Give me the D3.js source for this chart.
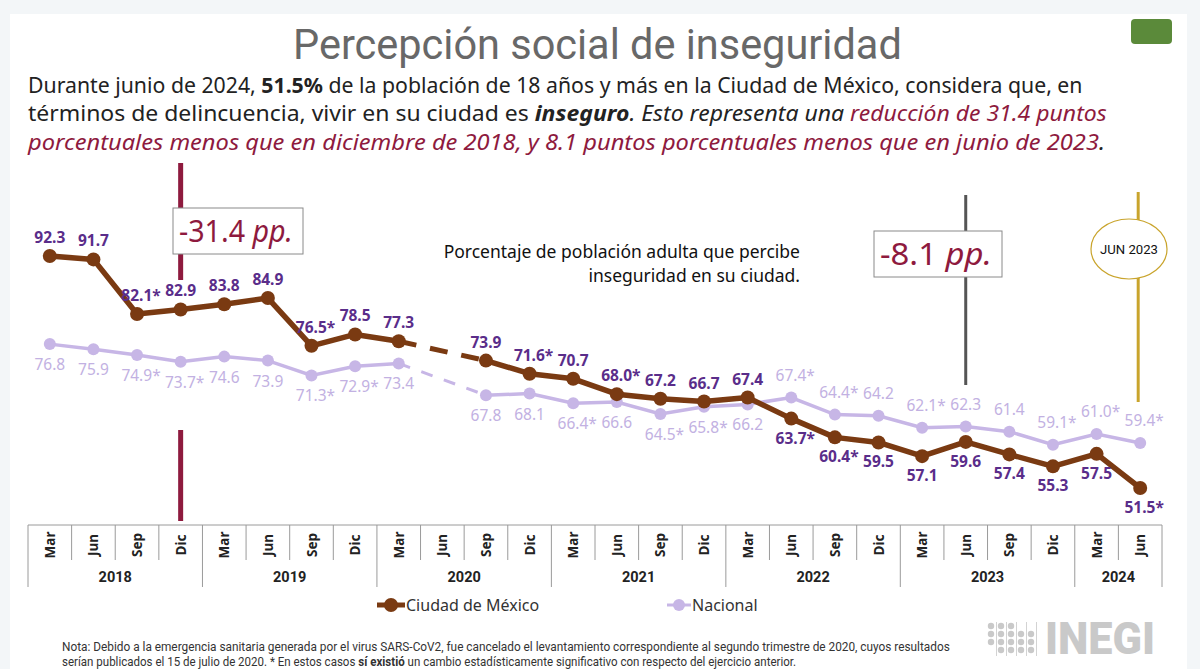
<!DOCTYPE html>
<html>
<head>
<meta charset="utf-8">
<script src="https://cdn.jsdelivr.net/npm/d3@7"></script>
<style>
  html, body { margin: 0; padding: 0; background: #f3f6f8; }
  svg { display: block; }
</style>
</head>
<body>
<svg id="svgBlock" width="1200" height="669"></svg>
<script>
// Quarters shown on the x axis
const years = ["2018", "2019", "2020", "2021", "2022", "2023", "2024"];
const quarters = [
  "Mar 2018", "Jun 2018", "Sep 2018", "Dic 2018",
  "Mar 2019", "Jun 2019", "Sep 2019", "Dic 2019",
  "Mar 2020", "Jun 2020", "Sep 2020", "Dic 2020",
  "Mar 2021", "Jun 2021", "Sep 2021", "Dic 2021",
  "Mar 2022", "Jun 2022", "Sep 2022", "Dic 2022",
  "Mar 2023", "Jun 2023", "Sep 2023", "Dic 2023",
  "Mar 2024", "Jun 2024"
];

// Percent of adults who perceive insecurity (null = survey cancelled)
const cdmx = [92.3, 91.7, 82.1, 82.9, 83.8, 84.9, 76.5, 78.5, 77.3, null, 73.9, 71.6, 70.7,
  68.0, 67.2, 66.7, 67.4, 63.7, 60.4, 59.5, 57.1, 59.6, 57.4, 55.3, 57.5, 51.5];
const nacional = [76.8, 75.9, 74.9, 73.7, 74.6, 73.9, 71.3, 72.9, 73.4, null, 67.8, 68.1, 66.4,
  66.6, 64.5, 65.8, 66.2, 67.4, 64.4, 64.2, 62.1, 62.3, 61.4, 59.1, 61.0, 59.4];

// statistically significant change marks (*)
const cdmxSig = [false, false, true, false, false, false, true, false, false, false, false, true, false,
  true, false, false, false, true, true, false, false, false, false, false, false, true];
const nacionalSig = [false, false, true, true, false, false, true, true, false, false, false, false, true,
  false, true, true, false, true, true, false, true, false, false, true, true, true];

const svg = d3.select("#svgBlock");

// squeeze a text (with its tspans) horizontally into a target width
function fitText(parts, x0, y0, width, font, size, fill) {
  const g = svg.append("g");
  const t = g.append("text").style("font-family", font).style("font-size", size + "px").attr("fill", fill);
  parts.forEach(p => {
    const s = t.append("tspan").text(p.t);
    if (p.b) s.attr("font-weight", "bold");
    if (p.i) s.attr("font-style", "italic");
    if (p.c) s.attr("fill", p.c);
  });
  const len = t.node().getComputedTextLength();
  g.attr("transform", `translate(${x0},${y0}) scale(${width / len},1)`);
  return g;
}

// white card + decoration
svg.append("rect").attr("x", 10).attr("y", 14).attr("width", 1177).attr("height", 660).attr("fill", "#fff");
svg.append("rect").attr("x", 1131).attr("y", 19).attr("width", 41).attr("height", 25).attr("rx", 4).attr("fill", "#5b8a3a");

const maroon = "#8e1a3e";

// title and lead text
fitText([{ t: "Percepción social de inseguridad" }], 293, 59, 609, "Roboto", 42, "#686868");
fitText([
  { t: "Durante junio de 2024, " }, { t: "51.5%", b: true },
  { t: " de la población de 18 años y más en la Ciudad de México, considera que, en" }
], 28, 93, 1055, "Noto Sans", 22, "#222");
fitText([
  { t: "términos de delincuencia, vivir en su ciudad es " }, { t: "inseguro", b: true, i: true },
  { t: ". Esto representa una ", i: true }, { t: "reducción de 31.4 puntos", i: true, c: maroon }
], 28, 121, 1079, "Noto Sans", 22, "#222");
fitText([
  { t: "porcentuales menos que en diciembre de 2018, y 8.1 puntos porcentuales menos que en junio de 2023", i: true, c: maroon },
  { t: ".", i: true }
], 28, 150, 1078, "Noto Sans", 22, "#222");

// scales
const x = d3.scaleBand().domain(d3.range(quarters.length)).range([28, 1162]).padding(0);
const cx = i => x(i) + x.bandwidth() / 2;
const y = d3.scaleLinear().domain([50, 100]).range([496.5, 212.2]);

// reference lines
const g0 = svg.append("g");
g0.append("line").attr("x1", cx(3)).attr("x2", cx(3)).attr("y1", 163).attr("y2", 280)
  .attr("stroke", maroon).attr("stroke-width", 5);
g0.append("line").attr("x1", cx(3)).attr("x2", cx(3)).attr("y1", 430).attr("y2", 521)
  .attr("stroke", maroon).attr("stroke-width", 5);
g0.append("line").attr("x1", cx(21)).attr("x2", cx(21)).attr("y1", 195).attr("y2", 385)
  .attr("stroke", "#555").attr("stroke-width", 3);
g0.append("line").attr("x1", cx(25) - 2).attr("x2", cx(25) - 2).attr("y1", 192).attr("y2", 402)
  .attr("stroke", "#c9a42c").attr("stroke-width", 3);

// annotation boxes
function ppBox(x0, y0, w, h, val) {
  svg.append("rect").attr("x", x0).attr("y", y0).attr("width", w).attr("height", h)
    .attr("fill", "#fff").attr("stroke", "#8a8a8a").attr("stroke-width", 1);
  fitText([{ t: val + " " }, { t: "pp.", i: true }], x0 + 6, y0 + h - 12, w - 16, "Noto Sans", 31, maroon);
}
ppBox(173, 208, 130, 46, "-31.4");
ppBox(874, 231, 128, 46, "-8.1");

svg.append("ellipse").attr("cx", 1129).attr("cy", 249).attr("rx", 38).attr("ry", 30)
  .attr("fill", "#fff").attr("stroke", "#c9a42c").attr("stroke-width", 1.2);
fitText([{ t: "JUN 2023" }], 1100, 254, 58, "Roboto", 13, "#111");

const note = svg.append("text").attr("text-anchor", "end")
  .style("font-family", "Noto Sans").style("font-size", "17.5px").attr("fill", "#111");
note.append("tspan").attr("x", 800).attr("y", 258).text("Porcentaje de población adulta que percibe");
note.append("tspan").attr("x", 800).attr("y", 282).text("inseguridad en su ciudad.");

// lines
const brown = "#7a3a12";
const lav = "#c7b6e6";
const line = d3.line().defined(d => d != null).x((d, i) => cx(i)).y(d => y(d));

function bridge(vals, color, w, dash) {
  svg.append("line").attr("x1", cx(8)).attr("y1", y(vals[8])).attr("x2", cx(10)).attr("y2", y(vals[10]))
    .attr("stroke", color).attr("stroke-width", w).attr("stroke-dasharray", dash);
}
bridge(nacional, lav, 3, "12 12");
svg.append("path").datum(nacional).attr("d", line).attr("fill", "none")
  .attr("stroke", lav).attr("stroke-width", 3.5);
svg.selectAll(".dn").data(nacional.map((v, i) => ({ v, i })).filter(d => d.v != null))
  .enter().append("circle").attr("cx", d => cx(d.i)).attr("cy", d => y(d.v)).attr("r", 6).attr("fill", lav);

bridge(cdmx, brown, 5, "18 14");
svg.append("path").datum(cdmx).attr("d", line).attr("fill", "none")
  .attr("stroke", brown).attr("stroke-width", 5.5).attr("stroke-linejoin", "round");
svg.selectAll(".dc").data(cdmx.map((v, i) => ({ v, i })).filter(d => d.v != null))
  .enter().append("circle").attr("cx", d => cx(d.i)).attr("cy", d => y(d.v)).attr("r", 7).attr("fill", brown);

// data labels: each label sits on the outer side of the pair; the * hangs to the right
const lbl = d => d.v.toFixed(1) + (d.sig ? "*" : "");
svg.selectAll(".ln").data(nacional.map((v, i) => ({ v, i, sig: nacionalSig[i], up: v > cdmx[i] })).filter(d => d.v != null))
  .enter().append("text")
  .attr("x", d => cx(d.i) + (d.sig ? 4 : 0)).attr("y", d => y(d.v) + (d.up ? -17 : 26))
  .attr("text-anchor", "middle").style("font-family", "Noto Sans").style("font-size", "15.5px")
  .attr("fill", "#c2b1e2").text(lbl);
svg.selectAll(".lc").data(cdmx.map((v, i) => ({ v, i, sig: cdmxSig[i], up: v > nacional[i] })).filter(d => d.v != null))
  .enter().append("text")
  .attr("x", d => cx(d.i) + (d.sig ? 4 : 0)).attr("y", d => y(d.v) + (d.up ? -13 : 25))
  .attr("text-anchor", "middle").style("font-family", "Noto Sans").style("font-size", "15.5px")
  .attr("font-weight", "bold").attr("fill", "#5a2d8a").text(lbl);

// x axis table
const ax = svg.append("g").attr("stroke", "#9a9a9a").attr("stroke-width", 1);
const axisTop = 525;
ax.append("line").attr("x1", 28).attr("x2", 1162).attr("y1", axisTop).attr("y2", axisTop);
d3.range(quarters.length + 1).forEach(i => {
  const xx = i < quarters.length ? x(i) : 1162;
  const yearEdge = i % 4 === 0 || i === quarters.length;
  ax.append("line").attr("x1", xx).attr("x2", xx).attr("y1", axisTop).attr("y2", yearEdge ? 587 : 560);
});
svg.selectAll(".mlab").data(quarters).enter().append("text")
  .attr("transform", (d, i) => `translate(${cx(i) + 5},${axisTop + 20}) rotate(-90)`)
  .attr("text-anchor", "middle").style("font-family", "Noto Sans").style("font-size", "13.5px")
  .attr("font-weight", "bold").attr("fill", "#222").text(d => d.split(" ")[0]);
svg.selectAll(".ylab").data(years).enter().append("text")
  .attr("x", d => {
    const idx = d3.range(quarters.length).filter(i => quarters[i].endsWith(d));
    return (x(idx[0]) + x(idx[idx.length - 1]) + x.bandwidth()) / 2;
  })
  .attr("y", 582).attr("text-anchor", "middle").style("font-family", "Roboto").style("font-size", "14.5px")
  .attr("font-weight", "bold").attr("fill", "#222").text(d => d);

// legend
const lg = svg.append("g");
lg.append("line").attr("x1", 377).attr("x2", 405).attr("y1", 605).attr("y2", 605).attr("stroke", brown).attr("stroke-width", 5);
lg.append("circle").attr("cx", 391).attr("cy", 605).attr("r", 7).attr("fill", brown);
lg.append("text").attr("x", 406).attr("y", 611).style("font-family", "Noto Sans").style("font-size", "16px")
  .attr("fill", "#333").text("Ciudad de México");
lg.append("line").attr("x1", 667).attr("x2", 691).attr("y1", 605).attr("y2", 605).attr("stroke", lav).attr("stroke-width", 3);
lg.append("circle").attr("cx", 679).attr("cy", 605).attr("r", 6).attr("fill", lav);
lg.append("text").attr("x", 692).attr("y", 611).style("font-family", "Noto Sans").style("font-size", "16px")
  .attr("fill", "#333").text("Nacional");

// footnote
fitText([{ t: "Nota: Debido a la emergencia sanitaria generada por el virus SARS-CoV2, fue cancelado el levantamiento correspondiente al segundo trimestre de 2020, cuyos resultados" }],
  62, 651, 889, "Roboto", 12.5, "#333");
fitText([
  { t: "serían publicados el 15 de julio de 2020. * En estos casos " }, { t: "sí existió", b: true },
  { t: " un cambio estadísticamente significativo con respecto del ejercicio anterior." }
], 62, 666, 735, "Roboto", 12.5, "#333");

// INEGI logo
const logo = svg.append("g").attr("fill", "#c9c9c9");
[[0, 3], [1, 4], [2, 4], [3, 3], [4, 3]].forEach(([c, n]) => {
  for (let k = 0; k < n; k++) {
    logo.append("circle").attr("cx", 991 + c * 10).attr("cy", 626 + (c > 2 ? 8 : 0) + k * 8).attr("r", 3.2);
  }
  logo.append("rect").attr("x", 996 + c * 10).attr("y", 622).attr("width", 0.8).attr("height", 34);
});
logo.append("text").attr("x", 1045).attr("y", 654).attr("textLength", 110).attr("lengthAdjust", "spacingAndGlyphs")
  .style("font-family", "Roboto").style("font-size", "44px").attr("font-weight", "900").text("INEGI");
</script>
</body>
</html>
